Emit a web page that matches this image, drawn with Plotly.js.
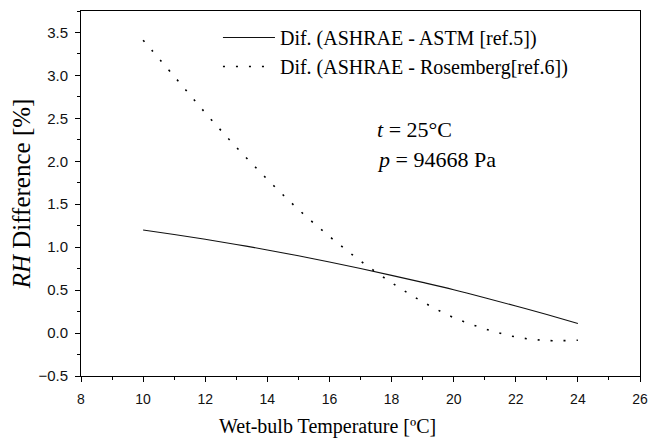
<!DOCTYPE html>
<html><head><meta charset="utf-8">
<script src="https://cdn.plot.ly/plotly-3.0.1.min.js"></script>
<style>html,body{margin:0;padding:0;background:#fff}#chart{width:648px;height:441px}</style>
</head><body><div id="chart"></div>
<script>
// Wet-bulb temperature [°C]
const wetBulb = [10, 11, 12, 13, 14, 15, 16, 17, 18, 19, 20, 21, 22, 23, 24];
// RH difference [%] : ASHRAE - ASTM [ref.5]
const difASTM = [1.20, 1.148, 1.092, 1.032, 0.968, 0.900, 0.828, 0.752, 0.672, 0.590, 0.505, 0.412, 0.315, 0.215, 0.112];
// RH difference [%] : ASHRAE - Rosemberg [ref.6]
const difRosemberg = [3.41, 2.99, 2.565, 2.165, 1.79, 1.44, 1.125, 0.84, 0.587, 0.365, 0.18, 0.05, -0.045, -0.087, -0.083];
const seriesNames = ["Dif. (ASHRAE - ASTM [ref.5])", "Dif. (ASHRAE - Rosemberg[ref.6])"];
const xTickVals = [8, 10, 12, 14, 16, 18, 20, 22, 24, 26];
const yTickVals = [-0.5, 0.0, 0.5, 1.0, 1.5, 2.0, 2.5, 3.0, 3.5];
const conditionLines = ["<i>t</i> = 25°C", "<i>p</i> = 94668 Pa"];
const xTitle = "Wet-bulb Temperature [ºC]";
const yTitle = "<i>RH</i> Difference [%]";

const serif = "Liberation Serif, Times New Roman, serif";
const sans = "Liberation Sans, Arial, sans-serif";

const traces = [
  {x: wetBulb, y: difASTM, name: seriesNames[0], type: "scatter", mode: "lines",
   line: {color: "#111", width: 1.1, shape: "spline"}},
  {x: wetBulb, y: difRosemberg, name: seriesNames[1], type: "scatter", mode: "lines",
   line: {color: "#000", width: 1.6, shape: "spline", dash: "2px,11px"}}
];

const axisCommon = {
  showgrid: false, zeroline: false, showline: true, linecolor: "#000", linewidth: 1,
  mirror: true, ticks: "outside", ticklen: 5, tickwidth: 1, tickcolor: "#000",
  tickfont: {family: sans, size: 15, color: "#111"}, fixedrange: true
};

const layout = {
  width: 648, height: 441,
  margin: {l: 81, r: 8, t: 11, b: 65},
  paper_bgcolor: "#fff", plot_bgcolor: "#fff",
  showlegend: true,
  legend: {x: 0.245, y: 0.981, xanchor: "left", yanchor: "top", bgcolor: "rgba(0,0,0,0)",
           font: {family: serif, size: 20, color: "#000"}, itemwidth: 52, tracegroupgap: 0},
  xaxis: Object.assign({}, axisCommon, {range: [8, 26], tickvals: xTickVals, ticklabelstandoff: 5,
           tickfont: {family: sans, size: 14, color: "#111"},
           minor: {dtick: 1, tick0: 8, ticks: "outside", ticklen: 3, tickcolor: "#000"}}),
  yaxis: Object.assign({}, axisCommon, {range: [-0.5, 3.75], tickvals: yTickVals, tickformat: ".1f",
           ticklabelstandoff: 4,
           minor: {dtick: 0.25, tick0: 0, ticks: "outside", ticklen: 3, tickcolor: "#000"},
           title: {text: yTitle, font: {family: serif, size: 25, color: "#000"}, standoff: 0}}),
  annotations: [
    {text: conditionLines[0], xref: "paper", yref: "paper", x: 0.526, y: 0.674, xanchor: "left", yanchor: "middle",
     showarrow: false, font: {family: serif, size: 22, color: "#000"}},
    {text: conditionLines[1], xref: "paper", yref: "paper", x: 0.526, y: 0.592, xanchor: "left", yanchor: "middle",
     showarrow: false, font: {family: serif, size: 22, color: "#000"}},
    {text: xTitle, xref: "paper", yref: "paper", x: (327 - 81) / 559, y: -(426 - 376) / 365,
     xanchor: "center", yanchor: "middle", showarrow: false, font: {family: serif, size: 20, color: "#000"}}
  ]
};

Plotly.newPlot("chart", traces, layout, {displayModeBar: false, staticPlot: true});
</script></body></html>
